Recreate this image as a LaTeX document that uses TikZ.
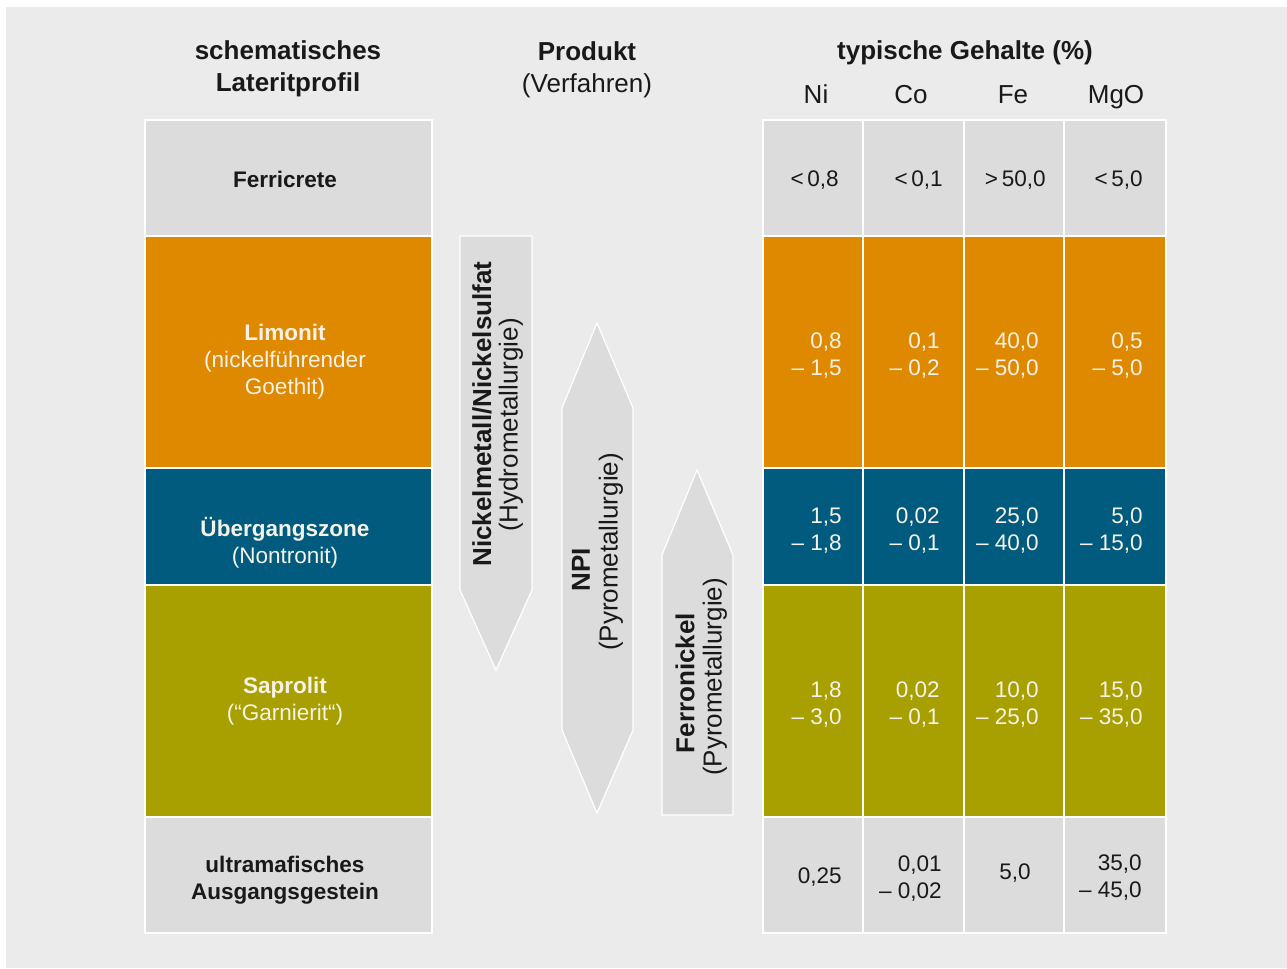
\documentclass[tikz,border=0pt]{standalone}
\usepackage{fontspec}
\setmainfont{Liberation Sans}
\definecolor{bg}{RGB}{235,235,235}
\definecolor{cellgrey}{RGB}{220,220,220}
\definecolor{lorange}{RGB}{223,137,0}
\definecolor{lblue}{RGB}{0,91,126}
\definecolor{lolive}{RGB}{168,159,0}
\definecolor{ink}{RGB}{25,25,25}
\definecolor{paper}{RGB}{246,242,232}
\newcommand\cellfont{\fontsize{16.9}{20.25}\selectfont}
\newcommand\headfont{\fontsize{19.5}{24}\selectfont}
\tikzset{
  cellbox/.style={draw=white, line width=1.1pt},
  arrowbox/.style={fill=cellgrey, draw=white, line width=0.9pt, line join=miter},
  lbl/.style={font=\cellfont, align=center, inner sep=0pt, yshift=-2.2pt},
  dark/.style={text=ink},
  light/.style={text=paper},
  head/.style={font=\headfont, align=center, inner sep=0pt, text=ink, yshift=-2.2pt},
  colhead/.style={font=\headfont, inner sep=0pt, text=ink, anchor=base},
  num/.style={font=\cellfont, align=right, inner sep=0pt, anchor=east, yshift=-2.2pt},
  vtext/.style={font=\headfont, inner sep=0pt, rotate=90, text=ink}
}
\begin{document}
\begin{tikzpicture}[x=0.75pt,y=-0.75pt]
\useasboundingbox (0,0) rectangle (1287,968);
\fill[white] (0,0) rectangle (1287,968);
\fill[bg] (6,7) rectangle (1287,968);

% cells
\foreach \ya/\yb/\c in {120/236/cellgrey, 236/468/lorange, 468/585/lblue, 585/817/lolive, 817/933/cellgrey}{
  \path[cellbox, fill=\c] (145,\ya) rectangle (432,\yb);
  \foreach \xa/\xb in {763/863,863/964,964/1064,1064/1166}
    \path[cellbox, fill=\c] (\xa,\ya) rectangle (\xb,\yb);
}

% arrows
\path[arrowbox] (460,236) -- (532,236) -- (532,590) -- (496,670) -- (460,590) -- cycle;
\path[arrowbox] (597,323) -- (633,408) -- (633,730) -- (597,813) -- (562,730) -- (562,408) -- cycle;
\path[arrowbox] (697,470) -- (733,555) -- (733,815) -- (662,815) -- (662,555) -- cycle;

% headings
\node[head] (h1) at (288,66) {\textbf{schematisches}\\\textbf{Lateritprofil}};
\node[head] (h2) at (587,67) {\textbf{Produkt}\\(Verfahren)};
\node[head] (h3) at (965,50) {\textbf{typische Gehalte (\%)}};
\node[colhead] (hNi) at (816,103) {Ni};
\node[colhead] (hCo) at (911,103) {Co};
\node[colhead] (hFe) at (1013,103) {Fe};
\node[colhead] (hMg) at (1116,103) {MgO};

% left column labels
\node[lbl, dark] (ferricrete) at (285,177) {\textbf{Ferricrete}};
\node[lbl, light] (limonit) at (285,359) {\textbf{Limonit}\\(nickelführender\\Goethit)};
\node[lbl, light] (uebergang) at (285,540) {\textbf{Übergangszone}\\(Nontronit)};
\node[lbl, light] (saprolit) at (285,698) {\textbf{Saprolit}\\(“Garnierit“)};
\node[lbl, dark] (ultra) at (285,877) {\textbf{ultramafisches}\\\textbf{Ausgangsgestein}};

% arrow labels
\node[vtext] (a1b) at (482,414) {\textbf{Nickelmetall/Nickelsulfat}};
\node[vtext] (a1r) at (511,425) {(Hydrometallurgie)};
\node[vtext] (a2b) at (581,570) {\textbf{NPI}};
\node[vtext] (a2r) at (611,552) {(Pyrometallurgie)};
\node[vtext] (a3b) at (685,683) {\textbf{Ferronickel}};
\node[vtext] (a3r) at (715,677) {(Pyrometallurgie)};

% table values: Ferricrete
\node[num, dark] (f1) at (839,177) {<\,0,8};
\node[num, dark] (f2) at (943,177) {<\,0,1};
\node[num, dark] (f3) at (1046,177) {>\,50,0};
\node[num, dark] (f4) at (1143,177) {<\,5,0};
% Limonit
\node[num, light] (l1) at (842,353) {0,8\\– 1,5};
\node[num, light] (l2) at (940,353) {0,1\\– 0,2};
\node[num, light] (l3) at (1039,353) {40,0\\– 50,0};
\node[num, light] (l4) at (1143,353) {0,5\\– 5,0};
% Uebergangszone
\node[num, light] (u1) at (842,528) {1,5\\– 1,8};
\node[num, light] (u2) at (940,528) {0,02\\– 0,1};
\node[num, light] (u3) at (1039,528) {25,0\\– 40,0};
\node[num, light] (u4) at (1143,528) {5,0\\– 15,0};
% Saprolit
\node[num, light] (s1) at (842,702) {1,8\\– 3,0};
\node[num, light] (s2) at (940,702) {0,02\\– 0,1};
\node[num, light] (s3) at (1039,702) {10,0\\– 25,0};
\node[num, light] (s4) at (1143,702) {15,0\\– 35,0};
% Ausgangsgestein
\node[num, dark] (g1) at (842,874) {0,25};
\node[num, dark] (g2) at (942,876) {0,01\\– 0,02};
\node[num, dark] (g3) at (1031,870) {5,0};
\node[num, dark] (g4) at (1142,875) {35,0\\– 45,0};
\end{tikzpicture}
\end{document}
